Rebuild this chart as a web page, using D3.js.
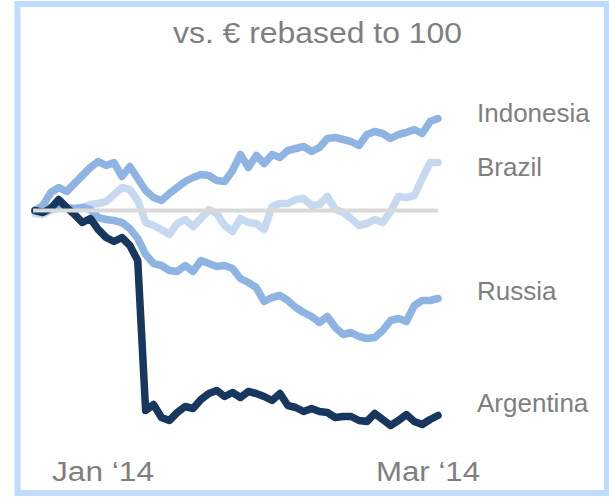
<!DOCTYPE html>
<html>
<head>
<meta charset="utf-8">
<script src="https://cdn.jsdelivr.net/npm/d3@7"></script>
<style>
  body { margin: 0; background: #ffffff; }
  text { font-family: "Liberation Sans", Arial, sans-serif; }
</style>
</head>
<body>
<div class="canvas"></div>
<script>
// index vs. EUR, rebased to 100 (daily, Jan - Mar 2014)
var countries = ["Brazil", "Indonesia", "Russia", "Argentina"];

var indonesia = [100.0,100.5,101.8,102.3,101.9,102.7,103.5,104.3,104.9,104.5,
                 104.8,103.4,104.4,103.2,102.0,101.3,101.0,101.7,102.3,102.9,
                 103.3,103.6,103.5,103.0,102.9,104.0,105.6,104.3,105.5,104.7,
                 105.6,105.3,106.0,106.2,106.4,105.9,106.3,107.2,107.3,107.1,
                 106.9,106.5,107.6,107.9,107.7,107.2,107.6,107.8,108.1,107.7,
                 108.9,109.2];

var brazil = [99.7,99.6,100.0,100.3,100.2,100.2,100.3,100.6,100.7,100.9,
              101.6,102.3,102.1,101.0,98.8,98.5,98.1,97.6,98.7,99.1,
              98.4,99.2,100.1,99.7,98.5,97.9,99.2,98.8,98.7,98.1,
              100.4,100.7,100.7,101.1,101.2,100.5,100.6,101.4,100.1,99.8,
              99.2,98.5,98.7,99.1,98.8,99.9,101.4,101.3,101.5,103.2,
              104.8,104.8];

var russia = [100.0,100.1,100.3,100.5,100.3,100.2,100.3,100.1,99.3,99.1,
              99.0,98.8,98.2,97.2,95.6,94.7,94.5,94.0,93.9,94.5,
              93.9,95.0,94.7,94.4,94.5,94.2,93.2,92.8,92.3,90.9,
              91.3,91.5,91.0,90.3,89.8,89.4,88.8,89.4,88.3,87.6,
              87.8,87.4,87.2,87.3,88.0,89.0,89.2,88.9,90.5,91.0,
              91.0,91.2];

var argentina = [100.0,99.8,100.2,101.1,100.3,99.6,98.8,99.2,98.1,97.3,
                 96.9,97.3,96.5,95.0,80.0,80.6,79.3,79.0,79.8,80.4,
                 80.2,81.1,81.7,82.0,81.4,81.8,81.3,81.9,81.7,81.4,
                 81.0,81.7,80.5,80.3,79.9,80.2,79.9,79.8,79.3,79.4,
                 79.4,79.0,78.9,79.7,79.1,78.5,79.0,79.6,78.9,78.6,
                 79.1,79.5];

var xLabels = ["Jan \u201814", "Mar \u201814"];
var baseValue = 100;

var seriesValues = {
  "Brazil": brazil,
  "Indonesia": indonesia,
  "Russia": russia,
  "Argentina": argentina
};
var colors = {
  "Brazil": "#c6d9f1",
  "Indonesia": "#8db4e2",
  "Russia": "#8db4e2",
  "Argentina": "#17375e"
};

var svg = d3.select(".canvas")
            .append("svg")
            .attr("width", 609)
            .attr("height", 498);

// light blue frame
svg.append("rect")
   .attr("x", 17.5)
   .attr("y", 4)
   .attr("width", 589.5)
   .attr("height", 489)
   .attr("fill", "none")
   .attr("stroke", "#c0dcfb")
   .attr("stroke-width", 6);

var x = d3.scaleLinear()
          .domain([0, indonesia.length - 1])
          .range([35, 438]);

var y = d3.scaleLinear()
          .domain([80, 110])
          .range([410.5, 110.5]);

var line = d3.line()
             .x(function(d, i){ return x(i); })
             .y(function(d){ return y(d); });

countries.forEach(function(c){
  svg.append("path")
     .datum(seriesValues[c])
     .attr("d", line)
     .attr("fill", "none")
     .attr("stroke", colors[c])
     .attr("stroke-width", 7.5)
     .attr("stroke-linejoin", "round")
     .attr("stroke-linecap", "round");
});

// baseline at 100
svg.append("line")
   .attr("x1", x(0) - 2)
   .attr("x2", x(indonesia.length - 1))
   .attr("y1", y(baseValue))
   .attr("y2", y(baseValue))
   .attr("stroke", "#d9d9d9")
   .attr("stroke-width", 4);

svg.append("text")
   .attr("x", 173)
   .attr("y", 43)
   .attr("font-size", "29px")
   .attr("textLength", 289)
   .attr("lengthAdjust", "spacingAndGlyphs")
   .attr("fill", "#7f7f7f")
   .text("vs. \u20ac rebased to 100");

// series labels
var labelY = { "Indonesia": 122, "Brazil": 176, "Russia": 300, "Argentina": 412 };
["Indonesia", "Brazil", "Russia", "Argentina"].forEach(function(c){
  svg.append("text")
     .attr("x", 477)
     .attr("y", labelY[c])
     .attr("font-size", "26px")
     .attr("fill", "#7f7f7f")
     .text(c);
});

// month labels
svg.append("text")
   .attr("x", 52)
   .attr("y", 481)
   .attr("font-size", "27px")
   .attr("textLength", 102)
   .attr("lengthAdjust", "spacingAndGlyphs")
   .attr("fill", "#7f7f7f")
   .text(xLabels[0]);

svg.append("text")
   .attr("x", 376)
   .attr("y", 481)
   .attr("font-size", "27px")
   .attr("textLength", 104)
   .attr("lengthAdjust", "spacingAndGlyphs")
   .attr("fill", "#7f7f7f")
   .text(xLabels[1]);
</script>
</body>
</html>
